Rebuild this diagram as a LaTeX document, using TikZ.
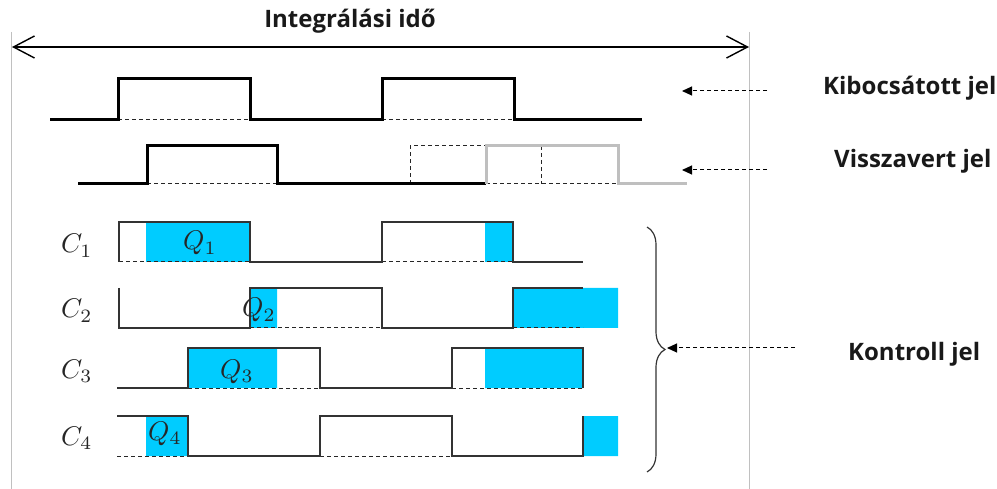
\documentclass[tikz,border=0pt]{standalone}
\usepackage{fontspec}
\newfontfamily\lab{Open Sans}
\usetikzlibrary{arrows.meta,decorations.pathreplacing}
\definecolor{qblue}{HTML}{00CCFF}
\definecolor{sgray}{HTML}{BFBFBF}
\definecolor{vgray}{HTML}{C0C0C0}
\definecolor{cline}{HTML}{333333}
\newcommand{\mylabelmath}[1]{\scalebox{2.7}{$#1$}}
\tikzset{
  thicksig/.style={line width=3pt, line join=miter},
  graysig/.style={line width=3pt, draw=sgray, line join=miter},
  thinsig/.style={line width=1.3pt, draw=cline, line join=miter},
  dashbase/.style={line width=1pt, dash pattern=on 4pt off 3pt, draw=black!85},
  bluebox/.style={fill=qblue, draw=none},
  biglabel/.style={font=\lab\bfseries\fontsize{24}{28}\selectfont, inner sep=0pt, text=black!90},
  mathlabel/.style={inner sep=0pt, text=black!85},
  pointer/.style={line width=1pt, dash pattern=on 4pt off 3pt, -{Triangle[length=10pt,width=9pt]}},
  frameline/.style={line width=1pt, draw=vgray}
}
\begin{document}
\begin{tikzpicture}[x=1pt,y=-1pt]
\useasboundingbox (0,0) rectangle (997,489);
% frame lines
\draw[frameline] (11,32) -- (11,489);
\draw[frameline] (749,32) -- (749,489);
% integration time arrow
\coordinate (tl) at (12,47);
\coordinate (tr) at (749,47);
\draw[line width=1.4pt, {Straight Barb[length=21pt,width=22pt]}-{Straight Barb[length=21pt,width=22pt]}] (tl) -- (tr);
\node[biglabel, anchor=base] (integ) at (350,28) {Integrálási idő};

% Kibocsatott jel
\draw[dashbase] (118,120) -- (250,120) (382,120) -- (514,120);
\draw[thicksig] (50,120) -- (118,120) -- (118,79) -- (250,79) -- (250,120) -- (382,120) -- (382,79) -- (514,79) -- (514,120) -- (642,120);

% Visszavert jel
\draw[dashbase] (147,184) -- (277,184) (410,184) -- (410,146) -- (486,146) (541,146) -- (541,184) (486,184) -- (618,184);
\draw[thicksig] (78,184) -- (147,184) -- (147,146) -- (277,146) -- (277,184) -- (486,184);
\draw[graysig] (486,184) -- (486,146) -- (618,146) -- (618,184) -- (687,184);

% blue areas
\fill[bluebox] (146,222) rectangle (250,262) (485,222) rectangle (513,262);
\fill[bluebox] (250,288) rectangle (277,328) (513,288) rectangle (618,328);
\fill[bluebox] (188,348) rectangle (277,388) (485,348) rectangle (583,388);
\fill[bluebox] (146,416) rectangle (188,456) (583,416) rectangle (618,456);

% C1
\draw[dashbase] (119,262) -- (250,262) (382,262) -- (513,262);
\draw[thinsig] (119,262) -- (119,222) -- (250,222) -- (250,262) -- (382,262) -- (382,222) -- (513,222) -- (513,262) -- (583,262);
% C2
\draw[dashbase] (250,328) -- (382,328) (513,328) -- (583,328);
\draw[thinsig] (119,288) -- (119,328) -- (250,328) -- (250,288) -- (382,288) -- (382,328) -- (513,328) -- (513,288) -- (583,288);
% C3
\draw[dashbase] (188,388) -- (320,388) (452,388) -- (583,388);
\draw[thinsig] (117,388) -- (188,388) -- (188,348) -- (320,348) -- (320,388) -- (452,388) -- (452,348) -- (583,348) -- (583,388);
% C4
\draw[dashbase] (117,456) -- (188,456) (320,456) -- (452,456);
\draw[thinsig] (117,416) -- (188,416) -- (188,456) -- (320,456) -- (320,416) -- (452,416) -- (452,456) -- (583,456) -- (583,416);

% C labels
\node[mathlabel, anchor=base west] (c1) at (61,253) {\mylabelmath{C_1}};
\node[mathlabel, anchor=base west] (c2) at (61,318) {\mylabelmath{C_2}};
\node[mathlabel, anchor=base west] (c3) at (61,378) {\mylabelmath{C_3}};
\node[mathlabel, anchor=base west] (c4) at (61,445) {\mylabelmath{C_4}};
% Q labels
\node[mathlabel, anchor=base west] (q1) at (183,250) {\mylabelmath{Q_1}};
\node[mathlabel, anchor=base west] (q2) at (242,317) {\mylabelmath{Q_2}};
\node[mathlabel, anchor=base west] (q3) at (220,378) {\mylabelmath{Q_3}};
\node[mathlabel, anchor=base west] (q4) at (148,440) {\mylabelmath{Q_4}};

% brace
\draw[line width=1.2pt, draw=cline, decorate, decoration={brace, amplitude=18pt}] (647,227) -- (647,472);

% right labels
\node[biglabel, anchor=base west] (kib) at (823,95) {Kibocsátott jel};
\node[biglabel, anchor=base west] (vis) at (834,168) {Visszavert jel};
\node[biglabel, anchor=base west] (kon) at (848,360) {Kontroll jel};

\coordinate (kibS) at (767,91);
\coordinate (kibT) at (682,91);
\coordinate (visS) at (767,170);
\coordinate (visT) at (682,170);
\coordinate (konS) at (795,348);
\coordinate (konT) at (667,348);
\draw[pointer] (kibS) -- (kibT);
\draw[pointer] (visS) -- (visT);
\draw[pointer] (konS) -- (konT);
\end{tikzpicture}
\end{document}
